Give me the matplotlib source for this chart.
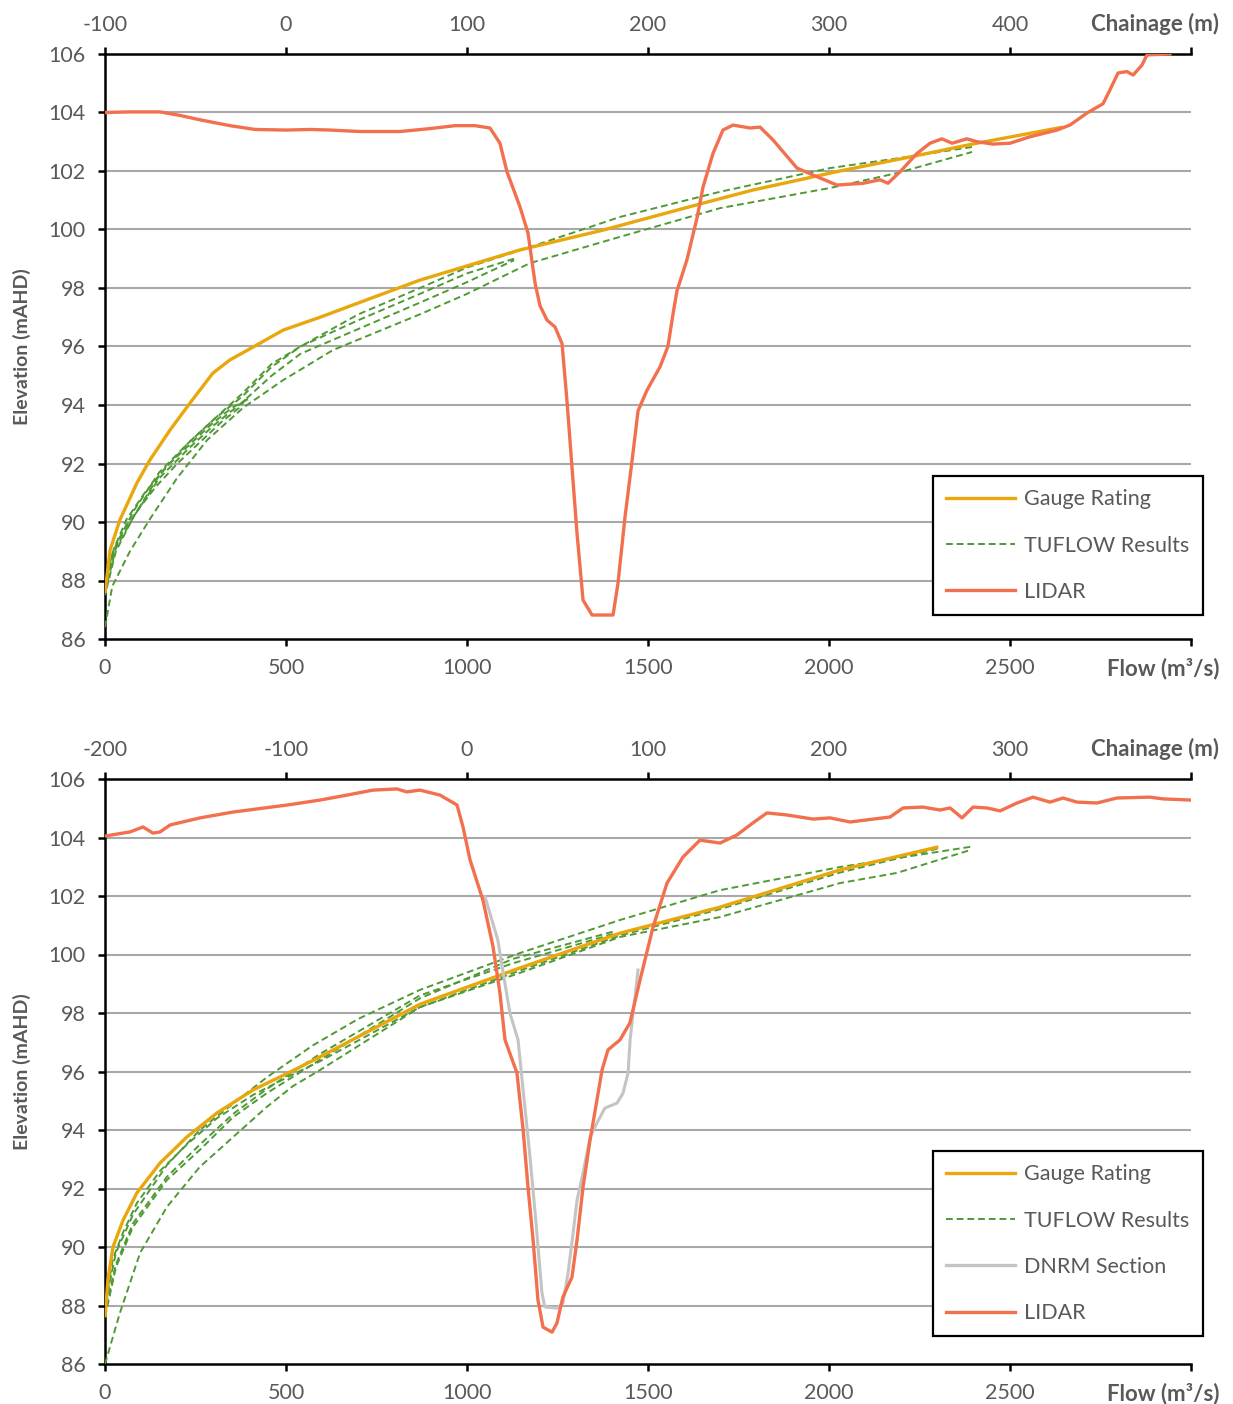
import matplotlib
matplotlib.use("Agg")
import matplotlib.pyplot as plt
from matplotlib.lines import Line2D

plt.rcParams['font.family'] = ['Lato', 'DejaVu Sans']

# ---------------- data: top panel ----------------
top_gauge_q = [0, 14, 41, 88, 124, 180, 235, 298, 345, 409, 492, 594, 724, 870, 1146, 1376, 1652, 1790, 2030, 2200, 2400, 2646]
top_gauge_e = [87.57, 89.04, 90.07, 91.33, 92.12, 93.15, 94.07, 95.09, 95.54, 95.98, 96.56, 97.0, 97.6, 98.27, 99.3, 99.98, 100.9, 101.35, 102.0, 102.42, 102.93, 103.5]

top_tuflow_q = [
    [0, 20, 69, 124, 199, 282, 381, 492, 630, 870, 1000, 1174, 1423, 1699, 2003, 2188, 2395],
    [2395, 2188, 2003, 1699, 1423, 1174, 1000, 870, 700, 540, 460, 380, 300, 230, 150, 80, 30, 0],
    [0, 30, 80, 150, 230, 300, 380, 460, 540, 700, 870, 1000, 1130],
    [1130, 1000, 870, 700, 540, 460, 380, 300, 230, 150, 80, 30, 0],
    [0, 20, 50, 90, 140, 200, 260, 320, 370, 395],
    [395, 350, 290, 230, 170, 110, 60, 25, 0],
]
top_tuflow_e = [
    [86.4, 87.8, 89.0, 90.1, 91.5, 92.8, 93.9, 94.85, 95.88, 97.1, 97.8, 98.85, 99.75, 100.73, 101.42, 101.93, 102.65],
    [102.82, 102.43, 102.1, 101.29, 100.43, 99.4, 98.7, 98.0, 97.1, 96.0, 95.4, 94.4, 93.5, 92.7, 91.6, 90.2, 89.0, 87.5],
    [87.6, 89.1, 90.2, 91.5, 92.5, 93.3, 94.1, 95.0, 95.75, 96.6, 97.5, 98.2, 98.95],
    [99.0, 98.5, 97.8, 96.9, 96.0, 95.3, 94.3, 93.5, 92.7, 91.7, 90.4, 89.2, 87.7],
    [87.7, 88.9, 89.7, 90.4, 91.2, 92.0, 92.7, 93.4, 93.9, 94.3],
    [94.2, 93.9, 93.3, 92.6, 91.9, 91.0, 90.1, 89.1, 88.0],
]

top_lidar_ch = [-100, -86.2, -69.6, -58.6, -47.5, -30.9, -17.1, 0, 13.3, 24.3, 40.9, 63.0, 79.6, 93.4, 104.4,
                112.7, 118.2, 122.1, 129.3, 133.7, 137.6, 140.3, 144.2, 148.6, 152.5, 155.2, 158.0, 160.8,
                164.1, 169.1, 180.7, 183.4, 187.3, 191.2, 194.5, 199.4, 206.6, 211.0, 213.8, 216.0, 221.5,
                227.1, 230.4, 235.9, 241.4, 247.0, 256.4, 261.9, 269.1, 276.8, 282.3, 291.2, 304.4, 318.8,
                328.2, 332.6, 339.2, 348.6, 355.8, 362.4, 368.0, 376.2, 381.8, 390.6, 400.0, 411.0, 426.0,
                433.1, 442.5, 451.4, 455.2, 459.7, 464.6, 468.0, 472.9, 475.7, 488.4]
top_lidar_e = [104.0, 104.02, 104.02, 103.9, 103.75, 103.55, 103.42, 103.4, 103.42, 103.4, 103.35, 103.35, 103.45,
               103.55, 103.55, 103.47, 102.95, 101.97, 100.77, 99.88, 98.17, 97.4, 96.9, 96.67, 96.1, 94.17,
               91.88, 89.6, 87.33, 86.82, 86.82, 87.9, 90.17, 92.1, 93.8, 94.5, 95.3, 96.0, 97.1, 97.9, 98.96,
               100.4, 101.45, 102.6, 103.4, 103.57, 103.47, 103.5, 103.06, 102.5, 102.1, 101.86, 101.52, 101.58,
               101.7, 101.58, 101.97, 102.6, 102.95, 103.1, 102.95, 103.1, 103.0, 102.92, 102.95, 103.17, 103.4,
               103.57, 103.98, 104.3, 104.77, 105.35, 105.4, 105.28, 105.62, 105.97, 106.0]

# ---------------- data: bottom panel ----------------
bot_gauge_q = [0, 8, 22, 50, 88, 152, 226, 309, 409, 511, 594, 870, 1146, 1423, 1699, 2030, 2302]
bot_gauge_e = [87.6, 88.87, 90.0, 90.92, 91.85, 92.87, 93.76, 94.58, 95.37, 95.98, 96.5, 98.3, 99.54, 100.73, 101.62, 102.89, 103.68]

bot_tuflow_q = [
    [0, 41, 97, 171, 262, 354, 447, 519, 594, 870, 1146, 1423, 1699, 2030, 2188, 2390],
    [2390, 2030, 1699, 1423, 1146, 870, 700, 575, 447, 354, 262, 171, 77, 30, 0],
    [0, 8, 22, 50, 88, 152, 226, 309, 409, 511, 594, 870, 1146, 1423, 1699, 2030, 2300],
    [0, 30, 77, 171, 262, 354, 447, 594, 870, 1127, 1403],
    [1403, 1127, 870, 594, 447, 354, 262, 171, 77, 30, 0],
]
bot_tuflow_e = [
    [86.0, 87.74, 89.8, 91.37, 92.74, 93.76, 94.79, 95.5, 96.05, 98.2, 99.37, 100.6, 101.28, 102.44, 102.79, 103.57],
    [103.68, 102.99, 102.2, 101.18, 100.05, 98.79, 97.8, 96.9, 95.8, 94.9, 94.0, 92.8, 91.1, 89.8, 88.0],
    [87.9, 88.6, 89.6, 90.5, 91.5, 92.6, 93.5, 94.4, 95.2, 95.85, 96.35, 98.2, 99.45, 100.65, 101.55, 102.8, 103.62],
    [87.6, 89.3, 90.68, 92.29, 93.32, 94.44, 95.26, 96.4, 98.5, 99.85, 100.78],
    [100.7, 99.7, 98.6, 96.6, 95.4, 94.55, 93.5, 92.4, 90.8, 89.4, 87.8],
]

bot_lidar_ch = [-200, -186.2, -179, -173.5, -169.6, -164, -147.5, -129.3, -99.4, -81.2, -66.3, -51.9, -38.7, -33.3,
                -26, -14.9, -5.5, -2.2, 1.7, 8.8, 14.4, 18.2, 21.0, 27.6, 31, 33.7, 36.5, 39.2, 42, 47, 49.7,
                53, 58, 60.8, 64.1, 68, 71.8, 74.6, 77.9, 84.5, 90, 95.6, 102.8, 110.5, 119.3, 128.7, 139.8,
                149.2, 158, 165.7, 176.8, 191.2, 200.6, 211.6, 233.7, 240.9, 251.9, 261.3, 266.9, 273.5, 279.6,
                287.3, 294.5, 303.9, 312.7, 322.1, 329.3, 337, 348, 359.1, 377.3, 384.5, 400]
bot_lidar_e = [104.05, 104.19, 104.36, 104.15, 104.19, 104.43, 104.67, 104.87, 105.11, 105.28, 105.45, 105.62,
               105.66, 105.56, 105.62, 105.45, 105.11, 104.36, 103.23, 101.86, 100.26, 98.68, 97.08, 95.95, 94.0,
               92.05, 90.24, 88.19, 87.26, 87.09, 87.4, 88.29, 88.97, 90.24, 92.05, 93.66, 95.03, 96.05, 96.74,
               97.08, 97.66, 99.13, 100.94, 102.44, 103.33, 103.91, 103.81, 104.09, 104.5, 104.84, 104.77,
               104.63, 104.67, 104.53, 104.7, 105.01, 105.04, 104.94, 105.01, 104.67, 105.04, 105.01, 104.91,
               105.18, 105.38, 105.21, 105.35, 105.21, 105.18, 105.35, 105.38, 105.32, 105.28]

bot_dnrm_ch = [10, 17, 20, 23.7, 28.2, 31, 34.8, 38, 41.4, 43, 49.7, 53, 55.8, 58.6, 60.8, 64.1, 68, 71.8, 76.2,
               82.9, 86.2, 89, 90.1, 94.5]
bot_dnrm_e = [101.97, 100.5, 99.37, 98.0, 97.08, 95.37, 93.08, 90.92, 88.43, 87.95, 87.91, 88.08, 89.1, 90.47,
              91.6, 92.53, 93.76, 94.24, 94.75, 94.92, 95.26, 95.95, 97.08, 99.47]

flow_ticks = [0, 500, 1000, 1500, 2000, 2500, 3000]
elev_ticks = [86, 88, 90, 92, 94, 96, 98, 100, 102, 104, 106]
top_chain_ticks = [-100, 0, 100, 200, 300, 400, 500]
bot_chain_ticks = [-200, -100, 0, 100, 200, 300, 400]

# ---------------- styling ----------------
C_GAUGE = '#E8A70C'
C_TUF = '#4F9A35'
C_LIDAR = '#F2704E'
C_DNRM = '#C4C4C4'
C_TXT = '#595959'
C_GRID = '#A8A8A8'

W, H = 1233, 1404
fig = plt.figure(figsize=(W / 100, H / 100), dpi=100)


def px_rect(l, t, r, b):
    return [l / W, 1 - b / H, (r - l) / W, (b - t) / H]


def panel(rect, chain_lim, chain_ticks, gq, ge, tq, te, lch, le, dch=None, de=None,
          legend_box=None, label_y_top=0, label_y_bot=0):
    ax = fig.add_axes(rect)
    ax.set_xlim(0, 3000)
    ax.set_ylim(86, 106)
    ax.set_xticks(flow_ticks)
    ax.set_xticklabels([str(v) for v in flow_ticks[:-1]] + [''])
    ax.set_yticks(elev_ticks)
    ax.set_yticklabels([str(v) for v in elev_ticks])
    for yv in elev_ticks[1:-1]:
        ax.axhline(yv, color=C_GRID, lw=1.5, zorder=0)
    for s in ['top', 'right']:
        ax.spines[s].set_visible(False)
    for s in ['left', 'bottom']:
        ax.spines[s].set_linewidth(1.8)
        ax.spines[s].set_color('black')
    ax.tick_params(axis='x', direction='out', length=5, width=1.8, pad=9,
                   labelsize=15.5, labelcolor=C_TXT)
    ax.tick_params(axis='y', direction='out', length=5, width=1.8, pad=9,
                   labelsize=15.5, labelcolor=C_TXT)

    for q, e in zip(tq, te):
        ax.plot(q, e, color=C_TUF, lw=1.4, ls=(0, (3.5, 2.0)), zorder=3)
    ax.plot(gq, ge, color=C_GAUGE, lw=2.4, zorder=4, solid_capstyle='butt')

    ax2 = ax.twiny()
    ax2.set_xlim(*chain_lim)
    ax2.set_ylim(86, 106)
    ax2.set_xticks(chain_ticks)
    ax2.set_xticklabels([str(v) for v in chain_ticks[:-1]] + [''])
    for s in ['bottom', 'left', 'right']:
        ax2.spines[s].set_visible(False)
    ax2.spines['top'].set_linewidth(1.8)
    ax2.spines['top'].set_color('black')
    ax2.tick_params(axis='x', direction='out', length=5, width=1.8, pad=9,
                    labelsize=15.5, labelcolor=C_TXT)
    if dch is not None:
        ax2.plot(dch, de, color=C_DNRM, lw=2.2, zorder=3)
    ax2.plot(lch, le, color=C_LIDAR, lw=2.4, zorder=5, clip_on=True,
             solid_joinstyle='round')

    handles = [Line2D([], [], color=C_GAUGE, lw=2.4),
               Line2D([], [], color=C_TUF, lw=1.4, ls=(0, (3.5, 2.0)))]
    labels = ['Gauge Rating', 'TUFLOW Results']
    if dch is not None:
        handles.append(Line2D([], [], color=C_DNRM, lw=2.4))
        labels.append('DNRM Section')
    handles.append(Line2D([], [], color=C_LIDAR, lw=2.4))
    labels.append('LIDAR')
    l, t, r, b = legend_box
    leg = ax2.legend(handles, labels, loc='upper left',
                     bbox_to_anchor=(l / W, 1 - b / H, (r - l) / W, (b - t) / H),
                     bbox_transform=fig.transFigure, mode='expand',
                     fontsize=15.5, frameon=True, fancybox=False, borderaxespad=0,
                     handlelength=3.2, handletextpad=0.4, labelspacing=1.22,
                     borderpad=0.62, labelcolor=C_TXT)
    fr = leg.get_frame()
    fr.set_edgecolor('black')
    fr.set_linewidth(1.6)
    fr.set_facecolor('white')
    fr.set_alpha(1)

    fig.text(1155 / W, 1 - label_y_top / H, 'Chainage (m)', ha='center', va='center',
             fontsize=16, fontweight='bold', color=C_TXT)
    fig.text(1163 / W, 1 - label_y_bot / H, 'Flow (m\u00b3/s)', ha='center', va='center',
             fontsize=16, fontweight='bold', color=C_TXT)
    ymid = (rect[1] + rect[3] / 2)
    fig.text(22 / W, ymid, 'Elevation (mAHD)', rotation=90, ha='center', va='center',
             fontsize=14, fontweight='bold', color=C_TXT)
    return ax, ax2


panel(px_rect(105, 54, 1191, 639), (-100, 500), top_chain_ticks,
      top_gauge_q, top_gauge_e, top_tuflow_q, top_tuflow_e, top_lidar_ch, top_lidar_e,
      legend_box=(933, 476, 1203, 614), label_y_top=24, label_y_bot=669)

panel(px_rect(105, 779, 1191, 1364), (-200, 400), bot_chain_ticks,
      bot_gauge_q, bot_gauge_e, bot_tuflow_q, bot_tuflow_e, bot_lidar_ch, bot_lidar_e,
      dch=bot_dnrm_ch, de=bot_dnrm_e,
      legend_box=(933, 1151, 1203, 1337), label_y_top=749, label_y_bot=1394)

fig.savefig('out.png', dpi=100, facecolor='white')
